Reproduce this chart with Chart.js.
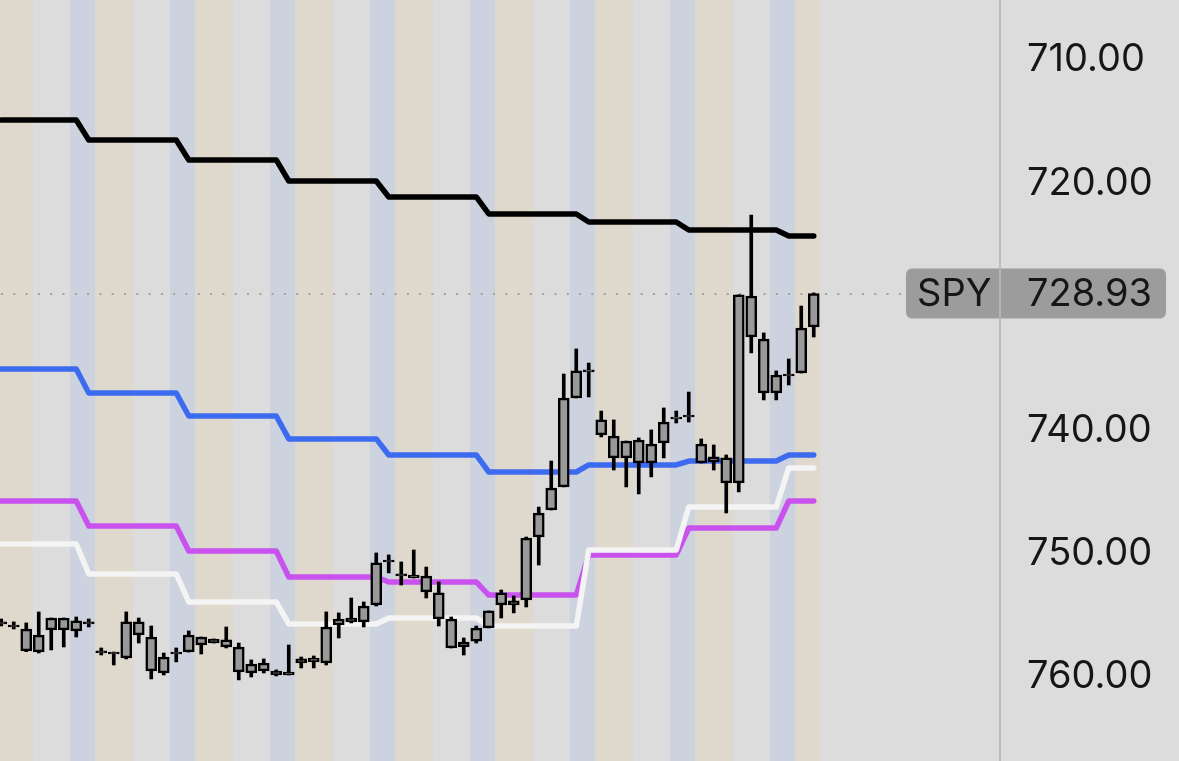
<!DOCTYPE html>
<html>
<head>
<meta charset="utf-8">
<script src="https://cdn.jsdelivr.net/npm/chart.js@4.4.0/dist/chart.umd.min.js"></script>
<style>
  html, body { margin: 0; padding: 0; background: #dcdcdc; }
  #wrap { width: 1179px; height: 761px; position: relative; }
</style>
</head>
<body>
<div id="wrap"><canvas id="c"></canvas></div>
<script>
// candle data, one entry per bar (price axis runs top-down: 710 at top)
const lows   = [755.30,755.54,755.62,754.73,755.22,755.22,755.14,755.30,757.65,757.98,
                754.73,755.22,755.87,758.06,757.65,756.27,756.76,756.92,755.95,757.25,
                758.62,758.54,759.43,757.41,758.38,758.30,754.73,754.81,753.60,753.92,
                749.95,750.11,750.68,749.71,751.09,752.30,755.14,756.84,755.87,754.65,
                752.95,753.44,748.66,746.23,742.50,735.45,733.42,734.56,738.45,739.17,
                740.88,740.63,739.98,738.20,738.45,736.91,740.71,741.20,742.01,729.04,
                722.56,732.12,735.20,734.23,729.94,728.88];
const closes = [755.54,755.79,756.11,756.60,755.22,755.22,755.46,755.54,757.89,757.98,
                755.54,755.54,756.76,758.38,757.98,756.60,756.76,756.92,757.00,757.57,
                758.95,758.87,759.52,759.60,758.54,758.46,755.95,755.30,755.22,754.25,
                750.76,750.52,751.65,751.74,751.82,753.19,755.30,757.17,756.03,754.65,
                753.19,753.84,748.74,746.71,744.69,737.39,735.20,735.12,739.17,740.47,
                740.88,740.80,741.12,739.34,738.93,738.77,741.12,742.17,742.25,729.04,
                729.13,732.61,735.53,735.45,731.72,728.93];
const opens  = [755.71,755.95,757.89,757.98,756.19,756.19,756.27,755.71,758.06,758.14,
                758.46,756.60,759.52,759.68,758.14,757.98,757.41,757.25,757.57,759.60,
                759.68,759.52,759.84,759.84,758.87,758.78,758.87,755.79,755.54,755.54,
                754.17,750.68,751.82,751.98,753.11,755.30,757.65,757.57,757.09,756.03,
                754.17,754.17,753.76,748.66,746.47,744.60,737.39,735.28,740.39,742.25,
                742.25,742.66,742.66,741.04,739.09,738.93,742.66,742.58,744.28,744.28,
                732.45,736.99,736.99,735.61,735.37,731.64];
const highs  = [755.87,756.11,757.95,758.06,757.81,757.57,756.76,755.95,758.22,759.03,
                758.54,757.25,760.16,759.84,758.78,757.98,758.14,757.25,757.65,760.24,
                760.00,759.68,759.92,759.84,759.27,759.27,759.03,756.84,755.62,755.95,
                754.25,751.57,752.55,751.98,753.60,755.87,757.65,758.22,757.25,756.03,
                755.22,754.81,754.33,750.93,746.47,744.60,737.39,737.31,740.55,743.23,
                744.60,745.17,743.79,742.25,739.42,739.34,742.66,743.23,746.71,745.01,
                733.74,737.55,737.55,736.34,735.37,732.45];

// session of every bar: P = pre-market, R = regular, A = after hours
const sessions = 'PPPRRRAA' + 'PPPRRRAA' + 'PPPRRRAA' + 'PPPRRRAA' +
                 'PPPRRRAA' + 'PPPRRRAA' + 'PPPRRRAA' + 'PPPRRRAA' + 'PP';

// daily levels, each held from dayStart to dayEnd bar
const dayStart = [0, 7, 15, 23, 31, 39, 47, 55, 63];
const dayEnd   = [6, 14, 22, 30, 38, 46, 54, 62, 65];
const blackLevels   = [714.86, 716.48, 718.10, 719.81, 721.10, 722.48, 723.13, 723.78, 724.26];
const blueLevels    = [735.04, 736.99, 738.85, 740.71, 742.01, 743.39, 742.82, 742.50, 742.01];
const magentaLevels = [745.74, 747.76, 749.79, 751.90, 752.30, 753.36, 750.11, 747.93, 745.74];
const whiteLevels   = [749.22, 751.65, 753.92, 755.70, 755.22, 755.87, 749.71, 746.23, 743.06];

const priceTicks = [710, 720, 730, 740, 750, 760];
const symbol = 'SPY';
const lastPrice = 728.93;

const SESSION_COLORS = { P: '#ded8cd', R: '#dcdcdc', A: '#cdd3de' };
const FONT = 'Inter, "Liberation Sans", sans-serif';
const TEXT = '#161616';
const LABEL_SIZE = 38;

function stepPoints(levels) {
  const pts = [];
  levels.forEach((v, d) => {
    pts.push({ x: dayStart[d], y: v });
    pts.push({ x: dayEnd[d], y: v });
  });
  return pts;
}

function levelLine(levels, color) {
  return {
    type: 'line',
    data: stepPoints(levels),
    borderColor: color,
    borderWidth: 5.5,
    pointRadius: 0,
    borderCapStyle: 'round',
    borderJoinStyle: 'round',
    tension: 0,
    fill: false,
    order: 10
  };
}

const bodies = opens.map((o, i) => ({ x: i, y: [o, closes[i]] }));
const wicks = lows.map((l, i) => ({ x: i, y: [l, highs[i]] }));

const sessionBg = {
  id: 'sessionBg',
  beforeDatasetsDraw(chart) {
    const { ctx, chartArea: { top, bottom, left }, scales: { x, y } } = chart;
    ctx.save();
    for (let i = 0; i < sessions.length; i++) {
      const x0 = Math.round(x.getPixelForValue(i - 0.5));
      const x1 = Math.round(x.getPixelForValue(i + 0.5));
      ctx.fillStyle = SESSION_COLORS[sessions[i]];
      ctx.fillRect(x0, top, x1 - x0, bottom - top);
    }
    // dotted last price line
    const py = Math.round(y.getPixelForValue(lastPrice));
    ctx.strokeStyle = '#a2a2a2';
    ctx.lineWidth = 2;
    ctx.setLineDash([2, 10.3]);
    ctx.beginPath();
    ctx.moveTo(left + 1, py);
    ctx.lineTo(906, py);
    ctx.stroke();
    ctx.restore();
  }
};

const priceBadge = {
  id: 'priceBadge',
  afterDraw(chart) {
    const { ctx, chartArea: { right }, scales: { y } } = chart;
    const py = y.getPixelForValue(lastPrice);
    ctx.save();
    ctx.fillStyle = '#9c9c9c';
    ctx.beginPath();
    ctx.roundRect(906, py - 25, 260, 50, 6);
    ctx.fill();
    ctx.fillStyle = '#b4b4b4';
    ctx.fillRect(right - 1, py - 25, 2, 50);
    ctx.fillStyle = TEXT;
    ctx.font = LABEL_SIZE + 'px ' + FONT;
    ctx.textBaseline = 'middle';
    ctx.textAlign = 'left';
    ctx.fillText(symbol, 917, py + 1);
    ctx.fillText(lastPrice.toFixed(2), right + 27, py + 1);
    ctx.restore();
  }
};

new Chart(document.getElementById('c'), {
  type: 'bar',
  data: {
    datasets: [
      {
        data: bodies,
        backgroundColor: '#999999',
        borderColor: '#000000',
        borderWidth: 2.5,
        borderSkipped: false,
        barThickness: 11,
        grouped: false,
        order: 0
      },
      {
        data: wicks,
        backgroundColor: '#000000',
        borderWidth: 0,
        barThickness: 3,
        grouped: false,
        order: 1
      },
      levelLine(whiteLevels, '#f4f4f4'),
      levelLine(magentaLevels, '#c952ef'),
      levelLine(blueLevels, '#3c6bf0'),
      levelLine(blackLevels, '#000000')
    ]
  },
  plugins: [sessionBg, priceBadge],
  options: {
    responsive: true,
    maintainAspectRatio: false,
    animation: false,
    events: [],
    layout: { padding: 0 },
    scales: {
      x: {
        type: 'linear',
        min: -0.1,
        max: 79.9,
        offset: false,
        display: false
      },
      y: {
        position: 'right',
        reverse: true,
        min: 705.14,
        max: 766.81,
        afterFit: (scale) => {
          scale.width = 179;
          scale.paddingTop = 0;
          scale.paddingBottom = 0;
        },
        afterBuildTicks: (scale) => { scale.ticks = priceTicks.map(v => ({ value: v })); },
        grid: { display: false, drawTicks: false },
        border: { display: true, color: '#bdbdbd', width: 2 },
        ticks: {
          padding: 27,
          color: TEXT,
          font: { family: FONT, size: LABEL_SIZE },
          callback: (v) => Number(v).toFixed(2)
        }
      }
    },
    plugins: {
      legend: { display: false },
      tooltip: { enabled: false }
    }
  }
});
</script>
</body>
</html>
